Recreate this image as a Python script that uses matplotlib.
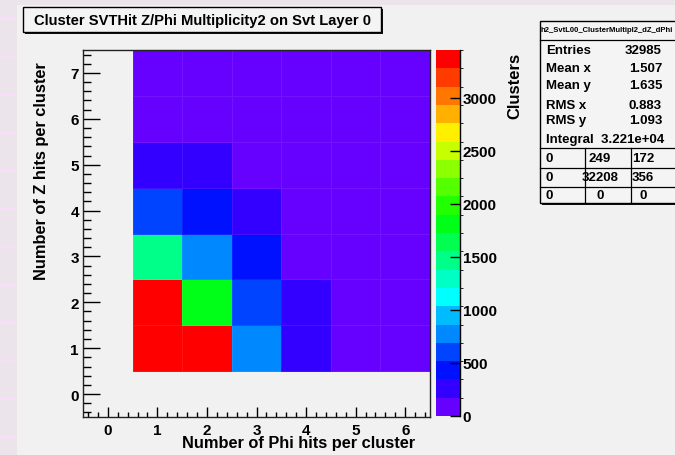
import matplotlib
matplotlib.use('Agg')
import matplotlib.pyplot as plt
from matplotlib import font_manager
from matplotlib.colors import ListedColormap, BoundaryNorm
from matplotlib.patches import Rectangle
from matplotlib.lines import Line2D
from matplotlib.ticker import MultipleLocator
import numpy as np

# histogram h2_SvtL00_ClusterMultipl2_dZ_dPhi
phi_edges = [0.5, 1.5, 2.5, 3.5, 4.5, 5.5, 6.5]
z_edges = [0.5, 1.5, 2.5, 3.5, 4.5, 5.5, 6.5, 7.5]
# rows: Z hits 1..7, columns: Phi hits 1..6
counts = [
    [12500, 5700, 770, 200, 90, 40],
    [4900, 1810, 540, 190, 60, 25],
    [1470, 780, 380, 120, 40, 15],
    [600, 430, 190, 70, 25, 10],
    [260, 260, 130, 40, 15, 6],
    [150, 120, 60, 20, 8, 4],
    [90, 70, 30, 10, 4, 2],
]
z_max = 3450
palette = ['#6600ff', '#3300ff', '#0011ff', '#0044ff', '#0088ff',
           '#00bbff', '#00ffff', '#00ffc4', '#00ff88', '#00ff50',
           '#00ff18', '#22ff00', '#55ff00', '#8cff00', '#c8ff00',
           '#fff000', '#ffb000', '#ff7700', '#ff3b00', '#ff0000']
z_ticks = [0, 500, 1000, 1500, 2000, 2500, 3000]

title = 'Cluster SVTHit Z/Phi Multiplicity2 on Svt Layer 0'
stats_name = 'h2_SvtL00_ClusterMultipl2_dZ_dPhi'
stats_rows = [('Entries', '32985'), ('Mean x', '1.507'), ('Mean y', '1.635'),
              ('RMS x', '0.883'), ('RMS y', '1.093')]
integral_text = 'Integral  3.221e+04'
flow_table = [['0', '249', '172'], ['0', '32208', '356'], ['0', '0', '0']]

W, H = 675, 456
def fx(x):
    return x / W
def fy(y):
    return 1 - y / H

plt.rcParams['font.family'] = ['Liberation Sans', 'DejaVu Sans']
plt.rcParams['font.weight'] = 'bold'

names = {f.name for f in font_manager.fontManager.ttflist}
if 'Liberation Sans Narrow' in names:
    title_font, title_size = ['Liberation Sans Narrow', 'Liberation Sans'], 13
else:
    title_font, title_size = ['Liberation Sans', 'DejaVu Sans'], 10.6

fig = plt.figure(figsize=(W / 100, H / 100), dpi=100)
fig.patch.set_facecolor('#f1f1f1')

# page background showing round the canvas
fig.add_artist(Rectangle((0, 0), fx(17), 1, transform=fig.transFigure,
                         facecolor='#ebe5eb', edgecolor='none', zorder=-5))
fig.add_artist(Rectangle((0, fy(6)), 1, 6 / H, transform=fig.transFigure,
                         facecolor='#ebe5eb', edgecolor='none', zorder=-5))
for yy in range(20, 456, 38):
    fig.add_artist(Line2D([0, fx(15)], [fy(yy), fy(yy)], transform=fig.transFigure,
                          color='#fcdcfc', lw=1.5, zorder=-4))

ax = fig.add_axes([fx(83), fy(418), (430 - 83) / W, (418 - 51) / H])
ax.set_facecolor('#f1f1f1')

cmap = ListedColormap(palette)
cmap.set_over(palette[-1])
bounds = np.linspace(0, z_max, len(palette) + 1)
norm = BoundaryNorm(bounds, cmap.N)
mesh = ax.pcolormesh(phi_edges, z_edges, np.array(counts), cmap=cmap, norm=norm,
                     edgecolors=(1, 1, 1, 0.08), linewidth=0.6)

ax.set_xlim(-0.5, 6.5)
ax.set_ylim(-0.5, 7.5)
ax.xaxis.set_major_locator(MultipleLocator(1))
ax.xaxis.set_minor_locator(MultipleLocator(0.2))
ax.yaxis.set_major_locator(MultipleLocator(1))
ax.yaxis.set_minor_locator(MultipleLocator(0.2))
ax.tick_params(axis='x', which='major', direction='in', length=7, width=1, pad=4, labelsize=11)
ax.tick_params(axis='x', which='minor', direction='in', length=3.5, width=1)
ax.tick_params(axis='y', which='major', direction='in', length=12, width=1, pad=3, labelsize=11)
ax.tick_params(axis='y', which='minor', direction='in', length=6, width=1)
for s in ax.spines.values():
    s.set_linewidth(1)
    s.set_color('#222222')

fig.text(fx(415), fy(444), 'Number of Phi hits per cluster', ha='right', va='center',
         fontsize=11.8, fontweight='bold')
fig.text(fx(42), fy(62), 'Number of Z hits per cluster', ha='center', va='top',
         rotation=90, fontsize=11.8, fontweight='bold')

# palette
cax = fig.add_axes([fx(436), fy(417), (460 - 436) / W, (417 - 51) / H])
cbar = fig.colorbar(mesh, cax=cax, ticks=z_ticks, extend='neither')
cbar.outline.set_visible(False)
cax.tick_params(direction='in', length=7, width=1, pad=2, labelsize=11, color='black')
cax.add_line(Line2D([1, 1], [0, 1], transform=cax.transAxes, color='black', lw=1, clip_on=False))
fig.text(fx(515), fy(53), 'Clusters', ha='center', va='top', rotation=90,
         fontsize=12, fontweight='bold')

# title box
fig.add_artist(Rectangle((fx(25), fy(35)), (383 - 25) / W, (35 - 10) / H,
                         transform=fig.transFigure, facecolor='#111111', edgecolor='none'))
fig.add_artist(Rectangle((fx(23), fy(33)), (381 - 23) / W, (33 - 8) / H,
                         transform=fig.transFigure, facecolor='#f4f4f4',
                         edgecolor='black', lw=1))
fig.text(fx(202), fy(20.5), title, ha='center', va='center',
         fontsize=title_size, fontweight='bold', family=title_font)

# stats box
fig.add_artist(Rectangle((fx(542), fy(206)), (680 - 542) / W, (206 - 24) / H,
                         transform=fig.transFigure, facecolor='#111111', edgecolor='none'))
fig.add_artist(Rectangle((fx(540), fy(204)), (680 - 540) / W, (204 - 22) / H,
                         transform=fig.transFigure, facecolor='#f4f4f4',
                         edgecolor='black', lw=1))
fig.text(fx(540.5), fy(31), stats_name, ha='left', va='center', fontsize=5.5,
         fontweight='bold')
row_y = [50.7, 69, 86, 106, 121]
for (lab, val), yy in zip(stats_rows, row_y):
    fig.text(fx(546), fy(yy), lab, ha='left', va='center', fontsize=9.5)
    fig.text(fx(662), fy(yy), val, ha='right', va='center', fontsize=9.5)
fig.text(fx(546), fy(140.5), integral_text, ha='left', va='center', fontsize=9.5)

for yy in [40.7, 149.3, 169.3, 187.7]:
    fig.add_artist(Line2D([fx(540), 1], [fy(yy), fy(yy)], transform=fig.transFigure,
                          color='black', lw=0.9))
for xx in [585, 630.5]:
    fig.add_artist(Line2D([fx(xx), fx(xx)], [fy(149.3), fy(204)], transform=fig.transFigure,
                          color='black', lw=0.9))
col_x = [(546, 'left'), (600, 'center'), (643, 'center')]
for row, yy in zip(flow_table, [159.3, 178.3, 196]):
    for txt, (xx, ha) in zip(row, col_x):
        fig.text(fx(xx), fy(yy), txt, ha=ha, va='center', fontsize=9.5)

fig.savefig('out.png', dpi=100, facecolor=fig.get_facecolor())
